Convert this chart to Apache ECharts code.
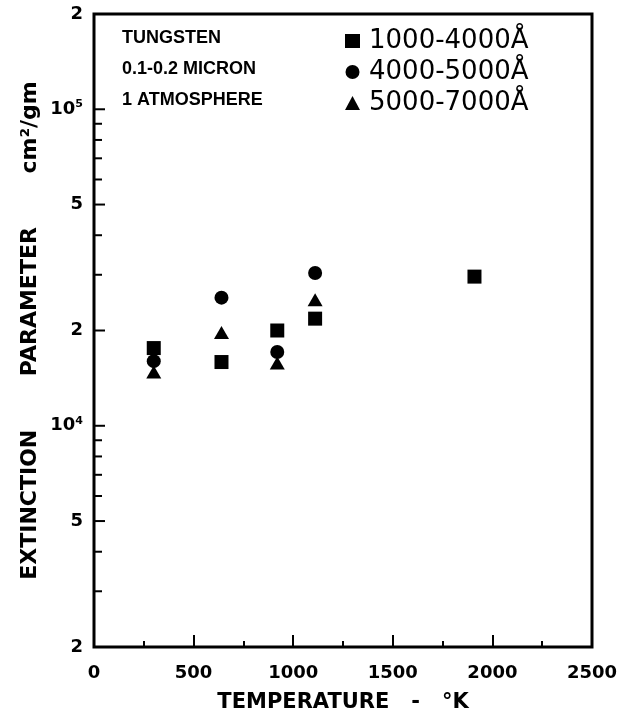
<!DOCTYPE html>
<html>
<head>
<meta charset="utf-8">
<script src="https://cdn.jsdelivr.net/npm/echarts@6/dist/echarts.min.js"></script>
<style>
  html, body { margin: 0; padding: 0; background: #fff; }
  #chart { width: 626px; height: 723px; }
</style>
</head>
<body>
<div id="chart"></div>
<script>
// Temperatures (K) at which each wavelength band was measured
const tempsBand1 = [300, 640, 920, 1110, 1910];
const tempsBand2 = [300, 640, 920, 1110];
const tempsBand3 = [300, 640, 920, 1110];

// Extinction parameter (cm^2/gm) for each wavelength band
const ext1000to4000 = [17600, 15900, 20000, 21800, 29600];
const ext4000to5000 = [16000, 25400, 17100, 30400];
const ext5000to7000 = [14800, 19700, 15800, 25000];

const seriesNames = ['1000-4000Å', '4000-5000Å', '5000-7000Å'];

// Logarithmic y-axis tick positions and their labels
const yTickValues = [2000, 3000, 4000, 5000, 6000, 7000, 8000, 9000,
  10000, 20000, 30000, 40000, 50000, 60000, 70000, 80000, 90000,
  100000, 200000];
const yLabelValues = [2000, 5000, 10000, 20000, 50000, 100000, 200000];
const yLabelTexts = ['2', '5', '{b|10}{s|4}', '2', '5', '{b|10}{s|5}', '2'];

const sampleNotes = ['TUNGSTEN', '0.1-0.2 MICRON', '1 ATMOSPHERE'];

const pair = (xs, ys) => xs.map((x, i) => [x, ys[i]]);

const chart = echarts.init(document.getElementById('chart'), null, { renderer: 'canvas' });

const labelFont = 'DejaVu Sans';
const markStyle = { color: '#000', opacity: 1 };

const option = {
  animation: false,
  backgroundColor: '#fff',
  grid: {
    left: 94, right: 34, top: 14, bottom: 76,
    show: true, borderColor: '#000', borderWidth: 3, backgroundColor: 'transparent'
  },
  legend: {
    orient: 'vertical',
    left: 340, top: 23,
    itemGap: 5,
    itemWidth: 15, itemHeight: 14,
    data: [
      { name: seriesNames[0], icon: 'rect' },
      { name: seriesNames[1], icon: 'circle' },
      { name: seriesNames[2], icon: 'triangle' }
    ],
    textStyle: { fontFamily: labelFont, fontSize: 26, color: '#000', padding: [0, 0, 0, 4] }
  },
  graphic: sampleNotes.map((t, i) => ({
    type: 'text',
    left: 122, top: 29 + i * 31,
    style: { text: t, fontFamily: 'Liberation Sans', fontWeight: 'bold', fontSize: 18, fill: '#000' }
  })),
  xAxis: {
    type: 'value', min: 0, max: 2500, interval: 500,
    name: 'TEMPERATURE   -   °K',
    nameLocation: 'middle', nameGap: 45,
    nameTextStyle: { fontFamily: labelFont, fontWeight: 'bold', fontSize: 21, color: '#000' },
    axisLine: { show: false },
    axisTick: { show: true, inside: true, length: 12, lineStyle: { color: '#000', width: 2 } },
    minorTick: { show: true, splitNumber: 2, length: 6, lineStyle: { color: '#000', width: 2 } },
    splitLine: { show: false },
    axisLabel: {
      margin: 17, fontFamily: labelFont, fontWeight: 'bold', fontSize: 18, color: '#000',
      formatter: v => String(v)
    }
  },
  yAxis: {
    type: 'log', logBase: 10, min: 2000, max: 200000,
    name: 'EXTINCTION       PARAMETER       cm²/gm',
    nameLocation: 'middle', nameGap: 53, nameRotate: 90,
    nameTextStyle: { fontFamily: labelFont, fontWeight: 'bold', fontSize: 22, color: '#000' },
    axisLine: { show: false },
    axisTick: { show: false },
    axisLabel: { show: false },
    splitLine: { show: false }
  },
  series: [
    {
      name: seriesNames[0], type: 'scatter', symbol: 'rect', symbolSize: 14,
      itemStyle: markStyle, data: pair(tempsBand1, ext1000to4000)
    },
    {
      name: seriesNames[1], type: 'scatter', symbol: 'circle', symbolSize: 14,
      itemStyle: markStyle, data: pair(tempsBand2, ext4000to5000)
    },
    {
      name: seriesNames[2], type: 'scatter', symbol: 'triangle', symbolSize: [15, 13],
      itemStyle: markStyle, data: pair(tempsBand3, ext5000to7000)
    },
    {
      // inward tick marks on the log axis (2..9 per decade)
      name: 'yTicks', type: 'custom', clip: false, silent: true,
      encode: { x: 0, y: 1 },
      data: yTickValues.map(v => [0, v]),
      renderItem: (params, api) => {
        const v = api.value(1);
        const p = api.coord([0, v]);
        const major = yLabelValues.indexOf(v) >= 0;
        return {
          type: 'line',
          shape: { x1: p[0], y1: p[1], x2: p[0] + (major ? 11 : 8), y2: p[1] },
          style: { stroke: '#000', lineWidth: 2 }
        };
      }
    },
    {
      // tick labels for the log axis, powers of ten with superscripts
      name: 'yLabels', type: 'custom', clip: false, silent: true,
      encode: { x: 0, y: 1 },
      data: yLabelValues.map(v => [0, v]),
      renderItem: (params, api) => {
        const v = api.value(1);
        const p = api.coord([0, v]);
        return {
          type: 'text',
          x: p[0] - 11, y: p[1],
          style: {
            text: yLabelTexts[params.dataIndex],
            align: 'right', verticalAlign: 'middle',
            fontFamily: labelFont, fontWeight: 'bold', fontSize: 18, fill: '#000',
            rich: {
              b: { fontFamily: labelFont, fontWeight: 'bold', fontSize: 18, color: '#000' },
              s: { fontFamily: labelFont, fontWeight: 'bold', fontSize: 11, color: '#000', verticalAlign: 'top', padding: [0, 0, 10, 0] }
            }
          }
        };
      }
    }
  ]
};

chart.setOption(option);
</script>
</body>
</html>
